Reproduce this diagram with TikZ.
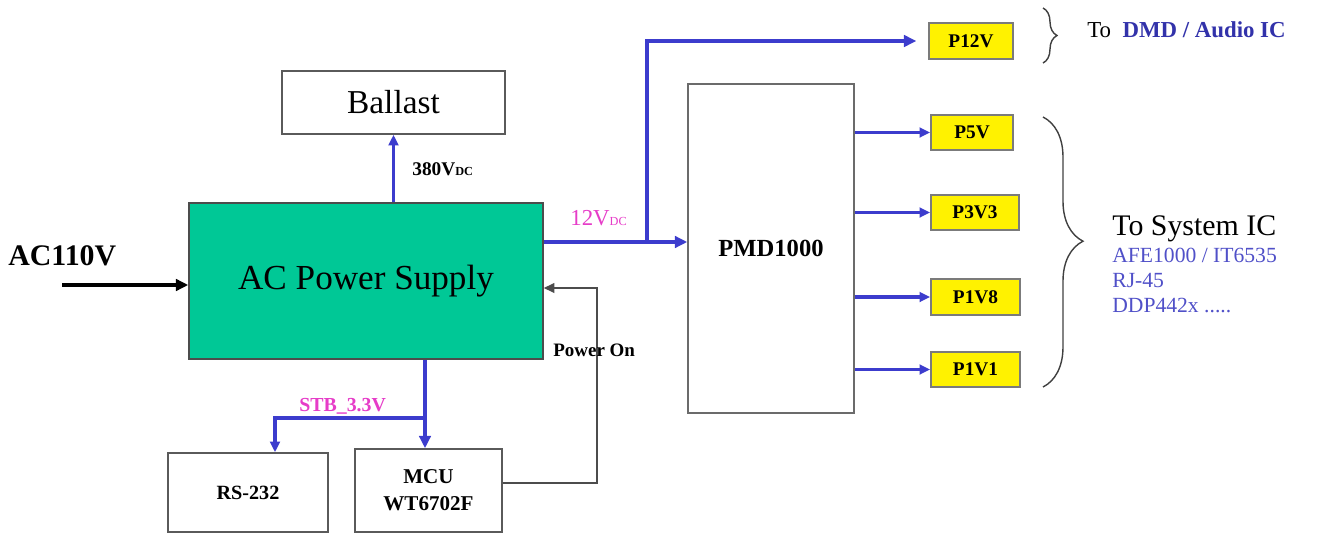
\documentclass[tikz,border=0pt]{standalone}
\usepackage{fontspec}
\setmainfont{Liberation Serif}
\usetikzlibrary{arrows.meta,decorations.pathreplacing}
\definecolor{psgreen}{RGB}{0,200,150}
\definecolor{railblue}{RGB}{60,60,205}
\definecolor{railpink}{RGB}{230,60,200}
\definecolor{icblue}{RGB}{50,50,170}
\definecolor{listblue}{RGB}{80,80,200}
\definecolor{boxgray}{RGB}{90,90,90}
\newcommand{\dcsub}{{\fontsize{7}{8}\selectfont DC}}

\begin{document}
\begin{tikzpicture}[x=0.02cm,y=-0.02cm,
    blockbox/.style={draw=boxgray,line width=0.9pt,fill=white,inner sep=0pt},
    railbox/.style={draw=boxgray!80,line width=1.1pt,fill=yellow,inner sep=0pt,
      minimum height=0.71cm,font=\fontsize{11}{13}\selectfont\bfseries},
    rail/.style={draw=railblue,line width=2.3pt,-{Triangle[length=7pt,width=6.5pt]}},
    railthin/.style={draw=railblue,line width=1.9pt,-{Triangle[length=6pt,width=5.5pt]}},
    sense/.style={draw=black!70,line width=0.8pt,-{Triangle[length=6pt,width=5.5pt]}},
    bracebig/.style={draw=black!75,line width=0.8pt,decorate}]
  \useasboundingbox (0,0) rectangle (1323,534);
  % blocks
  \node[blockbox,minimum width=4.46cm,minimum height=1.26cm,font=\fontsize{19}{22}\selectfont]
    (ballast) at (393.5,102.5) {Ballast};
  \node[draw=black!70,line width=0.9pt,fill=psgreen,minimum width=7.08cm,minimum height=3.12cm,
    inner sep=0pt,font=\fontsize{20}{24}\selectfont] (acps) at (366,281) {AC Power Supply};
  \node[blockbox,draw=boxgray!90,minimum width=3.32cm,minimum height=6.58cm,
    font=\fontsize{14}{16}\selectfont\bfseries] (pmd) at (771,248.5) {PMD1000};
  \node[blockbox,minimum width=3.2cm,minimum height=1.58cm,font=\fontsize{11.5}{13}\selectfont\bfseries]
    (rs) at (248,492.5) {RS-232};
  \node[blockbox,minimum width=2.94cm,minimum height=1.66cm,align=center,
    font=\fontsize{12}{15.5}\selectfont\bfseries] (mcu) at (428.5,490.5) {MCU\\WT6702F};
  % rail outputs
  \node[railbox,minimum width=1.68cm] (p12v) at (971,41) {P12V};
  \node[railbox,minimum width=1.64cm] (p5v) at (972,132.5) {P5V};
  \node[railbox,minimum width=1.76cm] (p3v3) at (975,212.5) {P3V3};
  \node[railbox,minimum width=1.78cm] (p1v8) at (975.5,297) {P1V8};
  \node[railbox,minimum width=1.78cm] (p1v1) at (975.5,369.5) {P1V1};
  % junctions
  \coordinate (acin) at (62,285);
  \coordinate (j12) at (647,242);
  \coordinate (j33) at (425,418);
  \coordinate (rsx) at (275,0);
  \coordinate (pon) at (597,288);
  % connectors
  \draw[black,line width=2.3pt,-{Triangle[length=7pt,width=6.5pt]}] (acin) -- (acps.west |- acin);
  \draw[railthin,line width=1.6pt] (ballast.south |- acps.north) -- (ballast.south);
  \draw[rail] (acps.east |- j12) -- (pmd.west |- j12);
  \draw[rail,shorten >=1pt] (j12) |- ([xshift=-0.2cm]p12v.west);
  \draw[railthin] (pmd.east |- p5v.west) -- (p5v.west);
  \draw[railthin] (pmd.east |- p3v3.west) -- (p3v3.west);
  \draw[railthin] (pmd.east |- p1v8.west) -- (p1v8.west);
  \draw[railthin] (pmd.east |- p1v1.west) -- (p1v1.west);
  \draw[rail] (acps.south -| j33) -- (mcu.north -| j33);
  \draw[railthin] (j33) -| (rs.north -| rsx);
  \draw[sense] ([yshift=0.15cm]mcu.east) -| (pon) -- (acps.east |- pon);
  % labels
  \node[anchor=base west,inner sep=0pt,font=\fontsize{17}{20}\selectfont\bfseries] (acinlbl) at (8,265) {AC110V};
  \node[anchor=base west,inner sep=0pt,font=\fontsize{11}{13}\selectfont\bfseries] (hvlbl) at (412,175) {380V\dcsub};
  \node[anchor=base west,inner sep=0pt,text=railpink,font=\fontsize{13}{15}\selectfont] (lvlbl) at (570,225) {12V\dcsub};
  \node[anchor=base west,inner sep=0pt,text=railpink,font=\fontsize{11.3}{13}\selectfont\bfseries] (stblbl) at (299,411) {STB\_3.3V};
  \node[anchor=base west,inner sep=0pt,font=\fontsize{10.8}{13}\selectfont\bfseries] (ponlbl) at (553,356) {Power On};
  % braces
  \draw[bracebig,decoration={brace,amplitude=0.28cm}] (1043,8) -- (1043,63);
  \draw[bracebig,decoration={brace,amplitude=0.8cm,aspect=0.46}] (1043,117) -- (1043,387);
  \node[anchor=base west,inner sep=0pt,font=\fontsize{13}{15}\selectfont] (dmd) at (1087,37)
    {To\ \ \textcolor{icblue}{\bfseries DMD / Audio IC}};
  \node[anchor=base west,inner sep=0pt,font=\fontsize{17}{20}\selectfont] (sysic) at (1112,235) {To System IC};
  \node[anchor=base west,inner sep=0pt,text=listblue,font=\fontsize{12.3}{14}\selectfont] (afe) at (1112,262) {AFE1000 / IT6535};
  \node[anchor=base west,inner sep=0pt,text=listblue,font=\fontsize{12.3}{14}\selectfont] (rj) at (1112,287) {RJ-45};
  \node[anchor=base west,inner sep=0pt,text=listblue,font=\fontsize{12.3}{14}\selectfont] (ddp) at (1112,312) {DDP442x .....};
\end{tikzpicture}
\end{document}
